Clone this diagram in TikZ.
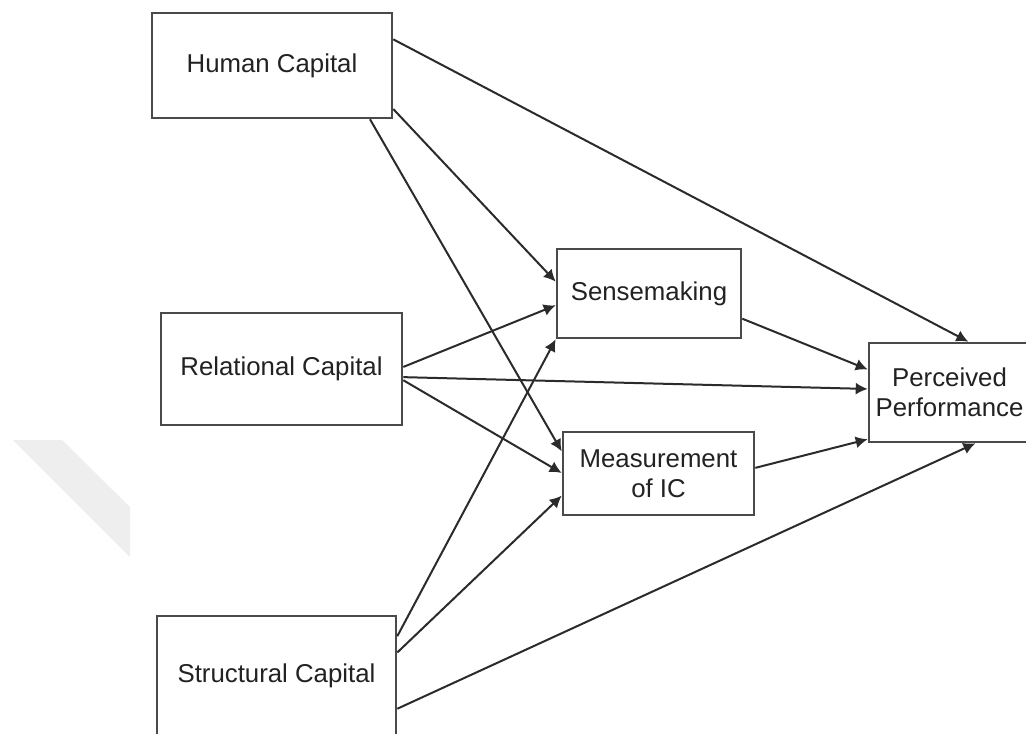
\documentclass[tikz,border=0pt]{standalone}
\usepackage{fontspec}
\setmainfont{Liberation Sans}
\usetikzlibrary{calc,arrows.meta}

\definecolor{boxline}{HTML}{4A4A4A}
\definecolor{linkline}{HTML}{2B2B2B}
\definecolor{textcol}{HTML}{222222}
\definecolor{bandgray}{HTML}{EEEEEE}

\tikzset{
  factor/.style={draw=boxline, line width=1.3pt, fill=white, inner sep=0pt,
    align=center, text=textcol, font=\fontsize{12.9}{15}\selectfont},
  link/.style={draw=linkline, line width=1pt,
    -{Latex[length=6pt,width=6pt]}}
}

\begin{document}
\begin{tikzpicture}[x=0.5pt,y=-0.5pt]
  \clip (0,0) rectangle (1026,733);
  \fill[white] (0,0) rectangle (1026,733);

  % faint band on the left
  \fill[bandgray] (13,440) -- (62,440) -- (130,507) -- (130,557) -- cycle;

  % factors
  \node[factor, minimum width=120pt,   minimum height=52.5pt] (hc)    at (272,65.5)   {Human Capital};
  \node[factor, minimum width=120.5pt, minimum height=56pt]   (rc)    at (281.5,369)  {Relational Capital};
  \node[factor, minimum width=119.5pt, minimum height=60pt]   (sc)    at (276.5,676)  {Structural Capital};
  \node[factor, minimum width=92pt,    minimum height=44.5pt] (sense) at (649,293.5)   {Sensemaking};
  \node[factor, minimum width=95.5pt,  minimum height=41.5pt] (meas)  at (658.5,473.5) {Measurement\\of IC};
  \node[factor, minimum width=80.5pt,  minimum height=49.5pt] (perf)  at (949.5,392.5) {Perceived\\Performance};

  % Human Capital
  \draw[link] ($(hc.north east)!0.257!(hc.south east)$) -- ($(perf.north west)!0.615!(perf.north east)$);
  \draw[link] ($(hc.north east)!0.905!(hc.south east)$) -- ($(sense.north west)!0.371!(sense.south west)$);
  \draw[link] ($(hc.south west)!0.904!(hc.south east)$) -- ($(meas.north west)!0.241!(meas.south west)$);

  % Relational Capital
  \draw[link] ($(rc.north east)!0.482!(rc.south east)$) -- ($(sense.north west)!0.629!(sense.south west)$);
  \draw[link] ($(rc.north east)!0.571!(rc.south east)$) -- ($(perf.north west)!0.465!(perf.south west)$);
  \draw[link] ($(rc.north east)!0.598!(rc.south east)$) -- ($(meas.north west)!0.494!(meas.south west)$);

  % Structural Capital
  \draw[link] ($(sc.north east)!0.175!(sc.south east)$) -- (sense.south west);
  \draw[link] ($(sc.north east)!0.308!(sc.south east)$) -- ($(meas.north west)!0.759!(meas.south west)$);
  \draw[link] ($(sc.north east)!0.767!(sc.south east)$) -- ($(perf.south west)!0.658!(perf.south east)$);

  % mediators
  \draw[link] ($(sense.north east)!0.775!(sense.south east)$) -- ($(perf.north west)!0.273!(perf.south west)$);
  \draw[link] ($(meas.north east)!0.434!(meas.south east)$) -- ($(perf.north west)!0.96!(perf.south west)$);
\end{tikzpicture}
\end{document}
